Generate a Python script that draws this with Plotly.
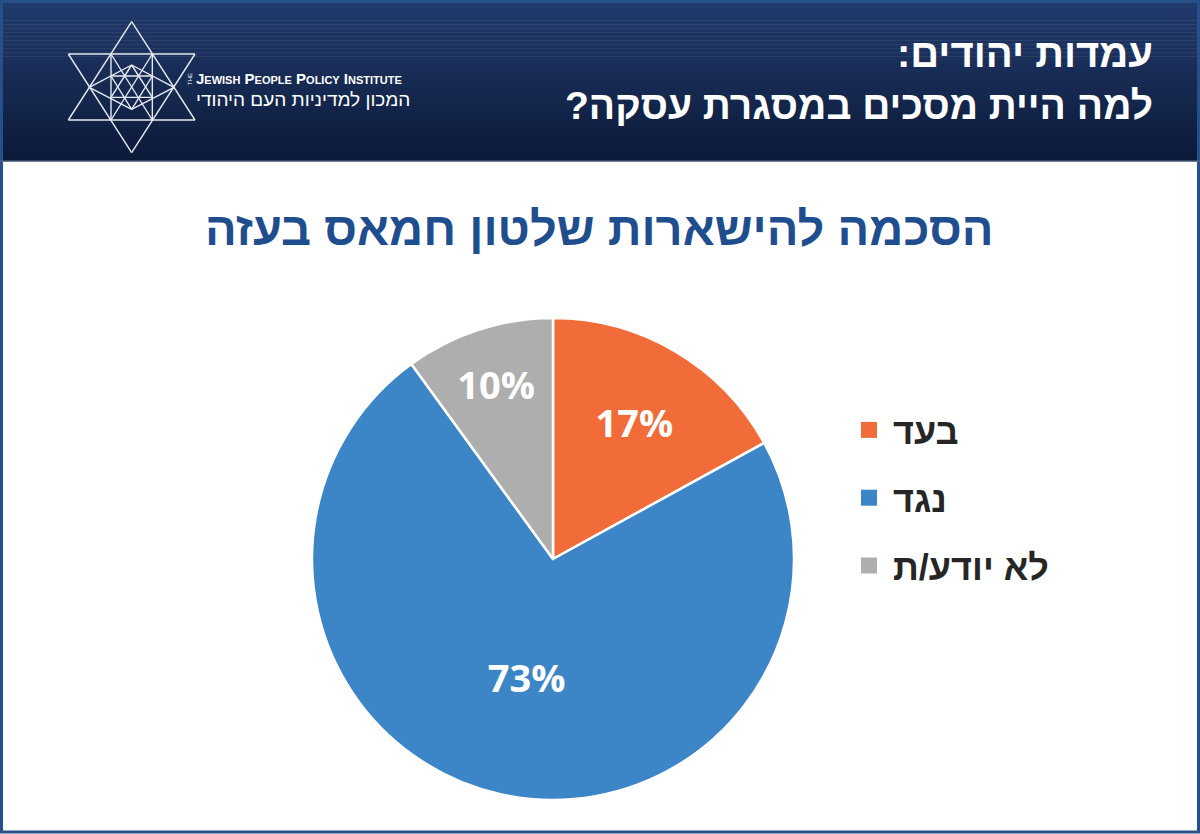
import plotly.graph_objects as go

W, H = 1200, 834

# ---- data ----
categories = ["בעד", "נגד", "לא יודע/ת"]
values = [17, 73, 10]
colors = ["#F26C3A", "#3C85C6", "#AEAEAE"]

header_line1 = "עמדות יהודים:\u200f"
header_line2 = "למה היית מסכים במסגרת עסקה?\u200f"
chart_title = "הסכמה להישארות שלטון חמאס בעזה"
logo_en = ("J<span style='font-size:11px'>EWISH</span> P<span style='font-size:11px'>EOPLE</span> "
           "P<span style='font-size:11px'>OLICY</span> I<span style='font-size:11px'>NSTITUTE</span>")
logo_he = "המכון למדיניות העם היהודי"


def px(x):
    return x / W


def py(y):
    return 1 - y / H


fig = go.Figure()

fig.add_trace(go.Pie(
    labels=categories, values=values, sort=False, direction="clockwise", rotation=0,
    marker=dict(colors=colors, line=dict(color="white", width=2.5)),
    textinfo="percent", textposition="inside", insidetextorientation="horizontal",
    textfont=dict(family="Open Sans", size=38, color="white", weight="bold"),
    domain=dict(x=[px(553 - 241), px(553 + 241)], y=[py(800), py(318)]),
    showlegend=False, hoverinfo="label+percent",
))

# legend entries (dummy traces so squares and gaps can be sized)
for i, (c, col) in enumerate(zip(categories, colors)):
    fig.add_trace(go.Scatter(
        x=[None], y=[None], mode="markers", name=c, legendgroup=f"g{i}",
        marker=dict(symbol="square", size=22, color=col),
    ))

shapes = []
# header gradient
n = 40
top = (0x22, 0x3B, 0x6D)
bot = (0x0C, 0x1A, 0x39)
for i in range(n):
    t = i / (n - 1)
    c = tuple(int(round(top[k] + (bot[k] - top[k]) * t)) for k in range(3))
    shapes.append(dict(type="rect", xref="paper", yref="paper", layer="below",
                       x0=0, x1=1, y0=py(161 * (i + 1) / n + 0.5), y1=py(161 * i / n),
                       fillcolor="rgb(%d,%d,%d)" % c, line=dict(width=0)))

# logo lines (in px)
def z(p):
    return (p[0] / 3 + 50, p[1] / 3 + 10)

segs = [
    ((245, 35), (55, 330)), ((245, 35), (435, 330)), ((55, 330), (435, 330)),
    ((245, 428), (55, 132)), ((245, 428), (435, 132)), ((55, 132), (435, 132)),
    ((183, 132), (183, 330)), ((307, 132), (307, 330)),
    ((183, 132), (307, 330)), ((307, 132), (183, 330)),
    ((118, 232), (245, 165)), ((245, 165), (372, 232)),
    ((118, 232), (245, 298)), ((245, 298), (372, 232)),
    ((183, 198), (307, 198)), ((183, 262), (307, 262)),
    ((245, 165), (183, 262)), ((245, 165), (307, 262)),
    ((245, 298), (183, 198)), ((245, 298), (307, 198)),
]
for a, b in segs:
    (x0, y0), (x1, y1) = z(a), z(b)
    shapes.append(dict(type="line", xref="paper", yref="paper", layer="above",
                       x0=px(x0), y0=py(y0), x1=px(x1), y1=py(y1),
                       line=dict(color="#E6EAF2", width=1.4)))

# frame
shapes.append(dict(type="rect", xref="paper", yref="paper", layer="above",
                   x0=px(1.5), x1=px(1198.5), y0=py(832), y1=py(1.5),
                   line=dict(color="#25508A", width=3)))
shapes.append(dict(type="line", xref="paper", yref="paper", layer="above",
                   x0=0, x1=1, y0=py(161), y1=py(161),
                   line=dict(color="#5A6F95", width=1)))

annotations = [
    dict(text=header_line1, x=px(1155), y=py(53), xanchor="right", yanchor="middle",
         font=dict(family="Liberation Sans Narrow, Liberation Sans", size=40, color="white", weight="bold")),
    dict(text=header_line2, x=px(1155), y=py(105), xanchor="right", yanchor="middle",
         font=dict(family="Liberation Sans Narrow, Liberation Sans", size=39, color="white", weight="bold")),
    dict(text=chart_title, x=px(599), y=py(228), xanchor="center", yanchor="middle",
         font=dict(family="Liberation Sans Narrow, Liberation Sans", size=47, color="#1F4E8F", weight="bold")),
    dict(text=logo_en, x=px(194), y=py(79), xanchor="left", yanchor="middle",
         font=dict(family="Liberation Sans Narrow, Liberation Sans", size=15, color="white", weight="bold")),
    dict(text="THE", x=px(190), y=py(79), xanchor="center", yanchor="middle", textangle=-90,
         font=dict(family="Liberation Sans Narrow, Liberation Sans", size=6, color="white")),
    dict(text=logo_he, x=px(194), y=py(99), xanchor="left", yanchor="middle",
         font=dict(family="Liberation Sans Narrow, Liberation Sans", size=19, color="white")),
]
for a in annotations:
    a.update(xref="paper", yref="paper", showarrow=False)

fig.update_layout(
    width=W, height=H, margin=dict(l=0, r=0, t=0, b=0),
    paper_bgcolor="white", plot_bgcolor="white",
    xaxis=dict(visible=False), yaxis=dict(visible=False),
    shapes=shapes, annotations=annotations,
    showlegend=True,
    legend=dict(x=px(845), y=py(400), xanchor="left", yanchor="top",
                bgcolor="rgba(0,0,0,0)", tracegroupgap=18, itemwidth=38,
                font=dict(family="Liberation Sans, DejaVu Sans", size=36, color="#262626", weight="bold")),
)

fig.write_html("out.html", config={"displayModeBar": False},
               post_script="document.body.style.margin='0';document.body.style.overflow='hidden';")
